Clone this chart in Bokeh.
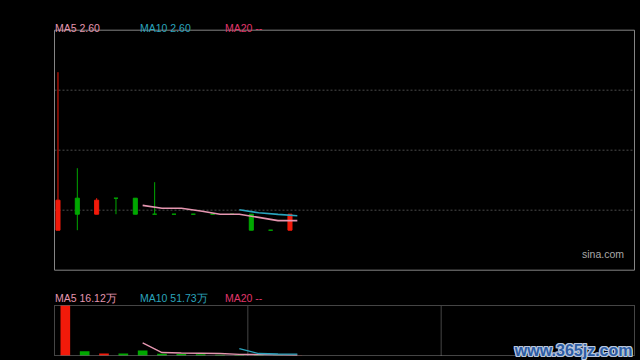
from bokeh.plotting import figure
from bokeh.models import Range1d, Label, BoxAnnotation, ColumnDataSource
from bokeh.embed import file_html
from bokeh.resources import INLINE

# ---------------- data ----------------
day_index = list(range(13))
opens  = [2.55, 2.71, 2.63, 2.71, 2.71, 2.63, 2.63, 2.63, 2.63, 2.63, 2.63, 2.55, 2.55]
highs  = [3.34, 2.86, 2.71, 2.71, 2.71, 2.79, 2.63, 2.63, 2.63, 2.63, 2.63, 2.55, 2.63]
lows   = [2.55, 2.55, 2.63, 2.63, 2.63, 2.63, 2.63, 2.63, 2.63, 2.63, 2.55, 2.55, 2.55]
closes = [2.70, 2.63, 2.70, 2.71, 2.63, 2.63, 2.63, 2.63, 2.63, 2.63, 2.55, 2.55, 2.63]
volumes_wan = [1900, 160, 80, 75, 190, 62, 58, 51.7, 24.5, 20.3, 17.8, 10.2, 7.8]

price_limits = [2.35, 3.55]
price_grid = [2.65, 2.95, 3.25]
slot_count = 30
volume_grid_slots = [10, 20]

price_headers = ["MA5 2.60", "MA10 2.60", "MA20 --"]
volume_headers = ["MA5 16.12万", "MA10 51.73万", "MA20 --"]
brand_text = "sina.com"
watermark_text = "www.365jz.com"

# ---------------- layout (pixels) & styles ----------------
W, H = 640, 360
PANEL_L, PANEL_R = 54.0, 634.0
PRICE_T, PRICE_B = 29.7, 269.7
VOL_T, VOL_B = 305.0, 355.0
RED = "#f21a0a"
GREEN = "#00a800"
MA_COLORS = ["#e596b0", "#2aa4bd", "#e0356b"]
FONT = "Liberation Sans"
CANDLE_OFFSET = 0.18
LINE_OFFSET = 0.56
HEADER_X = [54.5, 139.5, 224.5]

px_per_slot = (PANEL_R - PANEL_L) / slot_count
x_start = -PANEL_L / px_per_slot
x_end = slot_count + (W - PANEL_R) / px_per_slot

price_per_px = (price_limits[1] - price_limits[0]) / (PRICE_B - PRICE_T)
y_top = price_limits[1] + PRICE_T * price_per_px
y_bot = price_limits[0] - (H - PRICE_B) * price_per_px

vol_max = max(volumes_wan)
vol_per_px = vol_max / (VOL_B - VOL_T)
v_top = vol_max + VOL_T * vol_per_px
v_bot = -(H - VOL_B) * vol_per_px

def moving_average(vals, n):
    xs, ys = [], []
    for i in range(n - 1, len(vals)):
        xs.append(day_index[i] + LINE_OFFSET)
        ys.append(sum(vals[i - n + 1:i + 1]) / n)
    return xs, ys

colors = [RED if c > o else GREEN for o, c in zip(opens, closes)]
src = ColumnDataSource(dict(
    xc=[d + CANDLE_OFFSET for d in day_index],
    xv=[d + LINE_OFFSET for d in day_index],
    top=[max(o, c) for o, c in zip(opens, closes)],
    bottom=[min(o, c) for o, c in zip(opens, closes)],
    high=highs, low=lows, vol=volumes_wan, color=colors,
))

p = figure(width=W, height=H, output_backend="svg", toolbar_location=None,
           x_axis_type=None, y_axis_type=None,
           x_range=Range1d(x_start, x_end), y_range=Range1d(y_bot, y_top),
           min_border=0, min_border_left=0, min_border_right=0,
           min_border_top=0, min_border_bottom=0,
           background_fill_color="black", border_fill_color="black",
           outline_line_color=None)
p.extra_y_ranges = {"vol": Range1d(v_bot, v_top)}

# ---------------- price panel ----------------
p.segment(x0=[0] * len(price_grid), y0=price_grid, x1=[slot_count] * len(price_grid), y1=price_grid,
          line_color="#4a4a4a", line_dash="2 2", line_width=1)
p.add_layout(BoxAnnotation(left=0, right=slot_count, bottom=price_limits[0], top=price_limits[1],
                           fill_alpha=0, fill_color=None, line_color="#858585", line_width=1,
                           line_alpha=1))
p.segment(x0="xc", y0="low", x1="xc", y1="high", color="color", line_width=1, source=src)
p.vbar(x="xc", width=0.21, top="top", bottom="bottom", fill_color="color",
       line_color="color", line_width=1, source=src)
for n, col in zip([5, 10], MA_COLORS):
    xs, ys = moving_average(closes, n)
    p.line(xs, ys, line_color=col, line_width=1.6)

# ---------------- volume panel ----------------
p.segment(x0=volume_grid_slots, y0=[0] * len(volume_grid_slots), x1=volume_grid_slots,
          y1=[vol_max] * len(volume_grid_slots), line_color="#8a8a8a", line_dash="1 1",
          line_width=1, y_range_name="vol")
p.add_layout(BoxAnnotation(left=0, right=slot_count, bottom=0, top=vol_max, y_range_name="vol",
                           fill_alpha=0, fill_color=None, line_color="#8a8a8a", line_width=1,
                           line_dash="1 1", line_alpha=1))
p.vbar(x="xv", width=0.5, top="vol", bottom=0, fill_color="color", line_color=None,
       source=src, y_range_name="vol")
for n, col in zip([5, 10], MA_COLORS):
    xs, ys = moving_average(volumes_wan, n)
    p.line(xs, ys, line_color=col, line_width=1.4, y_range_name="vol")

# ---------------- texts ----------------
def label(x, y_from_top, text, color, size="10.5px", align="left", **kw):
    p.add_layout(Label(x=x, y=H - y_from_top, x_units="screen", y_units="screen", text=text,
                       text_color=color, text_font=FONT, text_font_size=size,
                       text_align=align, text_baseline="alphabetic", **kw))

for x, txt, col in zip(HEADER_X, price_headers, MA_COLORS):
    label(x, 27.6, txt, col)
for x, txt, col in zip(HEADER_X, volume_headers, MA_COLORS):
    label(x, 297.5, txt, col)
label(623.5, 253.3, brand_text, "#a8a8a8", align="right")

for dx, dy in [(-1, 0), (1, 0), (0, -1), (0, 1), (-1, -1), (1, 1), (-1, 1), (1, -1)]:
    label(632, 349.5, watermark_text, "#b9c6dc", size="16px", align="right",
          x_offset=dx, y_offset=dy, text_font_style="bold")
label(632, 349.5, watermark_text, "#2c5ca4", size="16px", align="right", text_font_style="bold")

html = file_html(p, INLINE, title="chart")
html = html.replace("<head>", "<head><style>html,body{background:#000;}</style>", 1)
open("out.html", "w").write(html)
